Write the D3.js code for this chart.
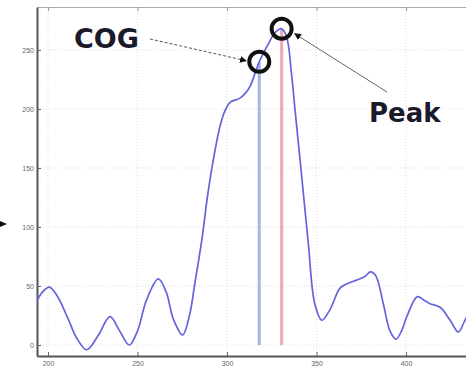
<!DOCTYPE html>
<html>
<head>
<meta charset="utf-8">
<script src="https://cdn.jsdelivr.net/npm/d3@7"></script>
<style>
  body { margin: 0; background: #fff; }
  svg { display: block; }
</style>
</head>
<body>
<div id="chart"></div>
<script>
// signal curve (x = position, y = intensity)
const xs = [193.3, 197, 200.7, 205, 211, 216, 221.6, 228, 234.6, 240, 245.4, 250, 255, 261.6, 266, 270, 275.2, 279, 282, 286, 289, 291, 293.3, 296, 299, 302, 307, 310, 312.8, 318, 323, 327, 330.5, 333.3, 336, 338, 341.7, 345.4, 349, 353, 357.5, 363, 367, 372.4, 377, 380, 383, 387.3, 391, 394.4, 397.5, 400.4, 406.3, 410, 413.4, 419, 424.6, 429.2, 432.6, 436, 440];
const ys = [36, 45, 49, 42, 23, 6, -4, 8, 24, 12, 0, 12, 38, 56, 45, 22, 8.5, 25, 52, 90, 125, 145, 165, 185, 199, 206, 209, 213, 219, 240, 255, 265, 268, 261, 230, 199, 143, 86, 35, 21, 30, 48, 52, 55, 58, 62, 59, 35, 12, 5, 12, 24, 41, 38, 35, 32, 21, 11, 20, 30, 38];

const xTicks = [200, 250, 300, 350, 400];
const yTicks = [0, 50, 100, 150, 200, 250];

const cog = { x: 318, y: 240, label: 'COG' };
const peak = { x: 330.5, y: 268, label: 'Peak' };

const width = 466;
const height = 370;
const plot = { left: 37, top: 7, right: 480, bottom: 356 };

const svg = d3.select('#chart').append('svg')
  .attr('width', width)
  .attr('height', height);

const defs = svg.append('defs');
defs.append('clipPath').attr('id', 'clip')
  .append('rect')
  .attr('x', plot.left).attr('y', plot.top)
  .attr('width', plot.right - plot.left)
  .attr('height', plot.bottom - plot.top);

defs.append('marker')
  .attr('id', 'arrow')
  .attr('viewBox', '0 0 10 10')
  .attr('refX', 9).attr('refY', 5)
  .attr('markerWidth', 7).attr('markerHeight', 7)
  .attr('markerUnits', 'userSpaceOnUse')
  .attr('orient', 'auto')
  .append('path')
  .attr('d', 'M0,0 L10,5 L0,10 z')
  .attr('fill', '#111');

const x = d3.scaleLinear()
  .domain([193.85, 441.3])
  .range([plot.left, plot.right]);

const y = d3.scaleLinear()
  .domain([-9.3, 286.4])
  .range([plot.bottom, plot.top]);

// grid
svg.append('g')
  .selectAll('line.vg')
  .data(xTicks)
  .enter().append('line')
  .attr('x1', d => x(d)).attr('x2', d => x(d))
  .attr('y1', plot.top).attr('y2', plot.bottom)
  .attr('stroke', '#ddd')
  .attr('stroke-dasharray', '1,2');

svg.append('g')
  .selectAll('line.hg')
  .data(yTicks)
  .enter().append('line')
  .attr('x1', plot.left).attr('x2', plot.right)
  .attr('y1', d => y(d)).attr('y2', d => y(d))
  .attr('stroke', '#ddd')
  .attr('stroke-dasharray', '1,2');

// axes
const xAxis = svg.append('g')
  .attr('transform', `translate(0,${plot.bottom})`)
  .call(d3.axisBottom(x).tickValues(xTicks).tickSizeInner(-4).tickSizeOuter(0).tickPadding(5));

const xTop = svg.append('g')
  .attr('transform', `translate(0,${plot.top})`)
  .call(d3.axisTop(x).tickValues(xTicks).tickSizeInner(-4).tickSizeOuter(0).tickFormat(''));

const yAxis = svg.append('g')
  .attr('transform', `translate(${plot.left},0)`)
  .call(d3.axisLeft(y).tickValues(yTicks).tickSizeInner(-4).tickSizeOuter(0).tickPadding(3));

[xAxis, yAxis].forEach(g => {
  g.select('.domain').attr('stroke', '#555').attr('stroke-width', 2);
  g.selectAll('.tick line').attr('stroke', '#666');
  g.selectAll('.tick text')
    .attr('fill', '#666')
    .style('font-family', 'Liberation Sans, Arial, sans-serif')
    .style('font-size', '7px');
});
xTop.select('.domain').attr('stroke', '#aaa').attr('stroke-width', 1);
xTop.selectAll('.tick line').attr('stroke', '#999');

// COG and peak markers
svg.append('line')
  .attr('x1', x(cog.x)).attr('x2', x(cog.x))
  .attr('y1', y(0)).attr('y2', y(cog.y))
  .attr('stroke', '#a9b0ea')
  .attr('stroke-width', 3);

svg.append('line')
  .attr('x1', x(peak.x)).attr('x2', x(peak.x))
  .attr('y1', y(0)).attr('y2', y(peak.y))
  .attr('stroke', '#f2a7b0')
  .attr('stroke-width', 3);

// signal curve
const line = d3.line()
  .x(d => x(d[0]))
  .y(d => y(d[1]))
  .curve(d3.curveCatmullRom.alpha(0.5));

svg.append('path')
  .datum(d3.zip(xs, ys))
  .attr('clip-path', 'url(#clip)')
  .attr('d', line)
  .attr('fill', 'none')
  .attr('stroke', '#6464dc')
  .attr('stroke-width', 1.7);

// circles
svg.selectAll('circle.mark')
  .data([cog, peak])
  .enter().append('circle')
  .attr('cx', d => x(d.x))
  .attr('cy', d => y(d.y))
  .attr('r', 10)
  .attr('fill', 'none')
  .attr('stroke', '#111')
  .attr('stroke-width', 4);

// labels
const font = 'DejaVu Sans, Verdana, sans-serif';
svg.append('text')
  .attr('x', 74).attr('y', 48)
  .attr('fill', '#1a1a2a')
  .style('font-family', font)
  .style('font-weight', 'bold')
  .style('font-size', '27px')
  .text(cog.label);

svg.append('text')
  .attr('x', 369).attr('y', 122)
  .attr('fill', '#1a1a2a')
  .style('font-family', font)
  .style('font-weight', 'bold')
  .style('font-size', '26px')
  .text(peak.label);

// arrows
svg.append('line')
  .attr('x1', 150).attr('y1', 39)
  .attr('x2', x(cog.x) - 13).attr('y2', y(cog.y) - 1)
  .attr('stroke', '#555')
  .attr('stroke-width', 1)
  .attr('stroke-dasharray', '3,2')
  .attr('marker-end', 'url(#arrow)');

svg.append('line')
  .attr('x1', 387).attr('y1', 92)
  .attr('x2', x(peak.x) + 13).attr('y2', y(peak.y) + 5)
  .attr('stroke', '#666')
  .attr('stroke-width', 1)
  .attr('marker-end', 'url(#arrow)');

// small pointer on the left edge
svg.append('path')
  .attr('d', 'M0,221 L7,224 L0,227 z')
  .attr('fill', '#111');
</script>
</body>
</html>
